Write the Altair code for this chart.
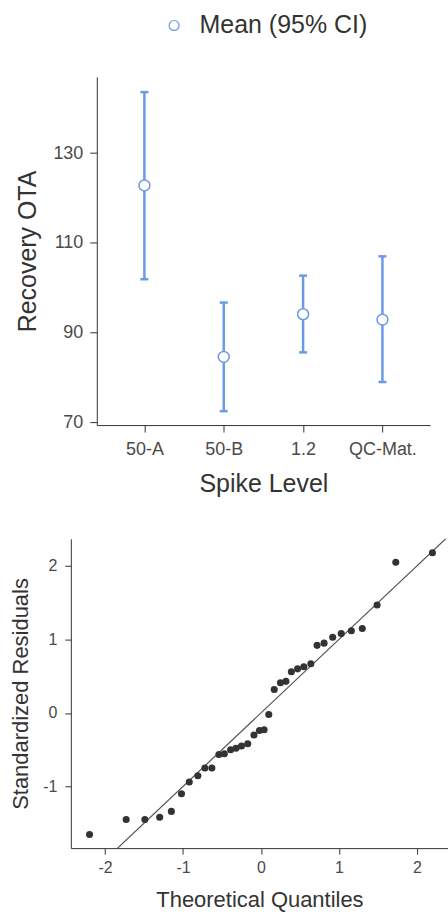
import altair as alt
import pandas as pd

# ---------------- data ----------------
spike_levels = ["50-A", "50-B", "1.2", "QC-Mat."]
means = [122.8, 84.6, 94.1, 92.9]
ci_lower = [101.9, 72.5, 85.6, 79.0]
ci_upper = [143.6, 96.7, 102.7, 107.0]
series_label = "Mean (95% CI)"

theoretical_q = [-2.20, -1.73, -1.49, -1.30, -1.15, -1.02, -0.92, -0.81, -0.72,
                 -0.63, -0.54, -0.47, -0.39, -0.32, -0.25, -0.17, -0.09, -0.02,
                 0.04, 0.10, 0.17, 0.25, 0.32, 0.39, 0.47, 0.55, 0.64,
                 0.72, 0.81, 0.92, 1.03, 1.16, 1.30, 1.49, 1.73, 2.20]
std_residuals = [-1.655, -1.45, -1.45, -1.42, -1.34, -1.10, -0.94, -0.855, -0.75,
                 -0.75, -0.566, -0.556, -0.50, -0.48, -0.45, -0.42, -0.30, -0.24,
                 -0.23, -0.02, 0.32, 0.41, 0.43, 0.56, 0.60, 0.63, 0.67,
                 0.92, 0.95, 1.03, 1.08, 1.12, 1.15, 1.47, 2.05, 2.18]
ref_line = [-2.6, 2.6]

BLUE = "#6b9ae6"
FONT = "Liberation Sans"
AX = "#333333"
LAB = "#4a4a4a"
SHIFT = 26  # top plot starts this many px right of the bottom plot

# ---------------- top chart ----------------
top_df = pd.DataFrame({
    "Spike Level": spike_levels,
    "mean": means,
    "lower": ci_lower,
    "upper": ci_upper,
    "series": [series_label] * len(spike_levels),
})

x_enc = alt.X(
    "Spike Level:N", sort=spike_levels,
    scale=alt.Scale(type="point", padding=0.6, range=[SHIFT, SHIFT + 334]),
    axis=alt.Axis(title="Spike Level", labelAngle=0, labelFontSize=18, titleFontSize=25,
                  tickSize=7, labelPadding=8, titlePadding=14),
)
y_scale = alt.Scale(domain=[69.4, 147.0], nice=False, zero=False)
y_axis = alt.Axis(title="Recovery OTA", values=[70, 90, 110, 130], labelFontSize=18,
                  titleFontSize=25, tickSize=7, labelPadding=7, titlePadding=12,
                  offset=-SHIFT)

base = alt.Chart(top_df)
rules = base.mark_rule(color=BLUE, strokeWidth=2.5).encode(
    x=x_enc, y=alt.Y("lower:Q", scale=y_scale, axis=y_axis), y2="upper:Q")
cap_lo = base.mark_tick(color=BLUE, size=8, thickness=2.5, opacity=1).encode(
    x=x_enc, y=alt.Y("lower:Q", scale=y_scale))
cap_hi = base.mark_tick(color=BLUE, size=8, thickness=2.5, opacity=1).encode(
    x=x_enc, y=alt.Y("upper:Q", scale=y_scale))
pts = base.mark_point(filled=False, fill="white", size=120, strokeWidth=1.5, opacity=1).encode(
    x=x_enc,
    y=alt.Y("mean:Q", scale=y_scale),
    color=alt.Color("series:N", scale=alt.Scale(range=[BLUE]),
                    legend=alt.Legend(title=None, orient="none", legendX=SHIFT + 65, legendY=-64,
                                      symbolType="circle", symbolSize=100,
                                      symbolFillColor="white", symbolStrokeWidth=1.2,
                                      labelFontSize=25, labelFont=FONT, labelColor="#333333",
                                      labelOffset=13, labelLimit=400, padding=0)),
)
top = alt.layer(rules, cap_lo, cap_hi, pts).properties(width=SHIFT + 334, height=349)

# ---------------- bottom chart ----------------
bot_df = pd.DataFrame({"q": theoretical_q, "r": std_residuals})
line_df = pd.DataFrame({"q": ref_line, "r": ref_line})
xs = alt.Scale(domain=[-2.44, 2.40], nice=False, zero=False)
ys = alt.Scale(domain=[-1.84, 2.37], nice=False, zero=False)

line = alt.Chart(line_df).mark_line(color="#555555", strokeWidth=1.2, clip=True).encode(
    x=alt.X("q:Q", scale=xs,
            axis=alt.Axis(title="Theoretical Quantiles", values=[-2, -1, 0, 1, 2],
                          labelExpr="datum.value + ''",
                          labelFontSize=16, titleFontSize=22, tickSize=6,
                          labelPadding=5, titlePadding=15)),
    y=alt.Y("r:Q", scale=ys,
            axis=alt.Axis(title="Standardized Residuals", values=[-1, 0, 1, 2],
                          labelExpr="datum.value + ''",
                          labelFontSize=16, titleFontSize=22, tickSize=6,
                          labelPadding=8, titlePadding=10)),
)
pts2 = alt.Chart(bot_df).mark_circle(size=50, color="#333333", opacity=1).encode(
    x=alt.X("q:Q", scale=xs), y=alt.Y("r:Q", scale=ys))
bottom = alt.layer(line, pts2).properties(width=378, height=310)

# ---------------- layout ----------------
chart = alt.vconcat(top, bottom, spacing=114, bounds="flush").properties(
    padding={"left": 9, "top": 12, "right": 0, "bottom": 5}
).configure_view(stroke=None).configure_axis(
    domainColor=AX, tickColor=AX, labelColor=LAB, titleColor="#333333",
    labelFont=FONT, titleFont=FONT, titleFontWeight="normal", grid=False,
    domainWidth=1, tickWidth=1,
)

chart.save("out.html", embed_options={"renderer": "svg", "actions": False})
